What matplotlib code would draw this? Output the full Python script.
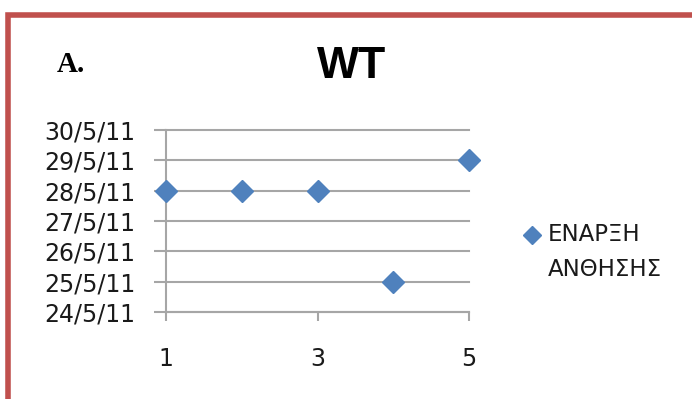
import matplotlib
matplotlib.use("Agg")
import matplotlib.pyplot as plt
import matplotlib.dates as mdates
from matplotlib.lines import Line2D
from datetime import datetime

# Data
x_values = [1, 2, 3, 4, 5]
onset_dates = ["28/5/11", "28/5/11", "28/5/11", "25/5/11", "29/5/11"]
y_tick_labels = ["24/5/11", "25/5/11", "26/5/11", "27/5/11", "28/5/11", "29/5/11", "30/5/11"]
x_ticks = [1, 3, 5]
series_name = "ΕΝΑΡΞΗ\nΑΝΘΗΣΗΣ"
title = "WT"
panel_label = "A."

def parse(s):
    return mdates.date2num(datetime.strptime(s, "%d/%m/%y"))

yv = [parse(s) for s in onset_dates]
yt = [parse(s) for s in y_tick_labels]

fig = plt.figure(figsize=(6.92, 3.99), dpi=100)
ax = fig.add_axes([166/692, 1-312/399, (469-166)/692, (312-130)/399])

grid_c = "#A6A6A6"
blue = "#4F81BD"

ax.plot(x_values, yv, linestyle="none", marker="D", markersize=11,
        color=blue, markeredgecolor=blue, label=series_name, zorder=3, clip_on=False)

ax.set_xlim(1, 5)
ax.set_ylim(yt[0], yt[-1])
ax.set_yticks(yt)
ax.set_yticklabels(y_tick_labels)
ax.set_xticks(x_ticks)
ax.set_xticklabels([str(v) for v in x_ticks])

for s in ["top", "right"]:
    ax.spines[s].set_visible(False)
for s in ["left", "bottom"]:
    ax.spines[s].set_color(grid_c)
    ax.spines[s].set_linewidth(1.5)

ax.yaxis.grid(True, color=grid_c, linewidth=1.5)
ax.set_axisbelow(True)
for gl in ax.get_ygridlines():
    gl.set_clip_on(False)

ax.tick_params(axis="y", direction="out", length=9, width=1.5, color=grid_c,
               pad=13, labelsize=17, labelcolor="#1a1a1a")
ax.tick_params(axis="x", direction="out", length=6.5, width=1.5, color=grid_c,
               pad=19, labelsize=17, labelcolor="#1a1a1a")

fig.text(352/692, 1-66/399, title, fontsize=32, fontweight="bold",
         family="Liberation Sans", ha="center", va="center")
fig.text(57/692, 1-64/399, panel_label, fontsize=21, fontweight="bold",
         family="Liberation Serif", ha="left", va="center")

# legend
fig.add_artist(Line2D([532/692], [1-235/399], marker="D", markersize=9,
                      color=blue, linestyle="none"))
fig.text(548/692, 1-252/399, series_name, fontsize=16.5, ha="left", va="center",
         linespacing=1.65, color="#1a1a1a")

# red border (top and left)
border = "#C0504D"
fig.add_artist(Line2D([8/692, 8/692, 1.0], [0.0, 1-15/399, 1-15/399],
                      color=border, linewidth=4, solid_joinstyle="miter"))

fig.savefig("out.png", dpi=100)
